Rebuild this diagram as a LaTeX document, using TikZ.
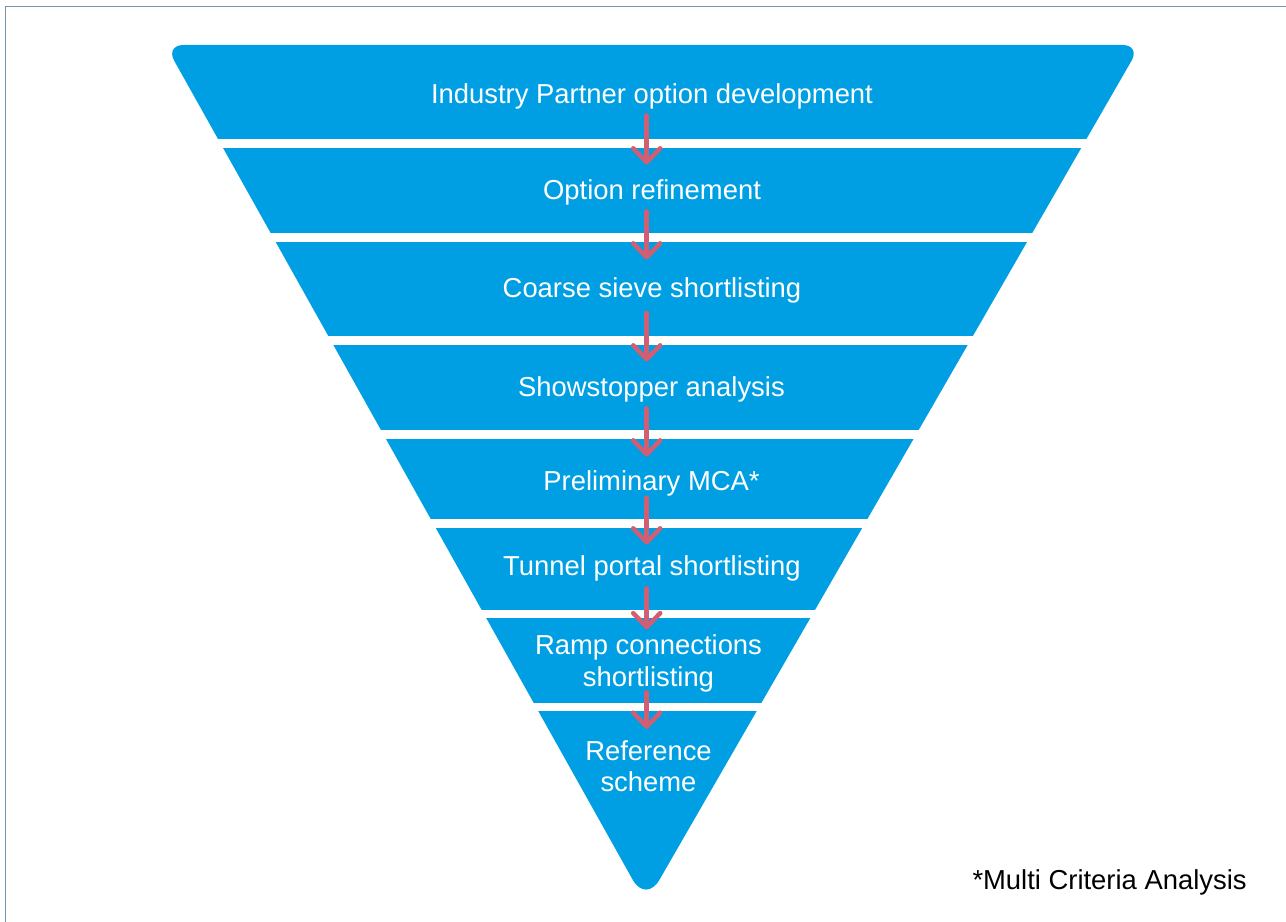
\documentclass[tikz,border=0pt]{standalone}
\usepackage{fontspec}
\setmainfont{Liberation Sans}
\usetikzlibrary{arrows.meta, calc}
\definecolor{funnelblue}{RGB}{0, 159, 227}
\definecolor{arrowred}{RGB}{209, 94, 114}
\definecolor{framegray}{RGB}{120, 146, 172}
\tikzset{
  funnel/.style     = {fill=funnelblue},
  gapband/.style    = {fill=white},
  stage/.style      = {text=white, inner sep=0pt, align=center, font=\fontsize{15.6}{18}\selectfont},
  flow/.style       = {-{Straight Barb[length=0.28cm, width=0.54cm, round]}, line width=0.09cm, arrowred, line cap=round},
  notetext/.style   = {inner sep=0pt, font=\fontsize{15.6}{18}\selectfont},
  framestyle/.style = {draw=framegray, line width=0.03cm},
}

\begin{document}
\begin{tikzpicture}[x=0.02cm, y=-0.02cm]
\useasboundingbox (0,0) rectangle (1286,922);

% frame (top and left edge)
\draw[framestyle] (5.5,922) -- (5.5,6.5) -- (1286,6.5);

% inverted triangle
\fill[funnel] (646,45) [rounded corners=0.36cm] -- (1140.6,45) [rounded corners=0.54cm] -- (645.9,903.3) [rounded corners=0.36cm] -- (165.4,45) -- cycle;

% white gaps between the bands
\foreach \t/\b in {139/148, 233/242, 336/345, 430/439, 519/528, 610/618, 702.5/711}
  \fill[gapband] (100,\t) rectangle (1200,\b);

% stages
\node[stage] (s1) at (652,96.7)  {Industry Partner option development};
\node[stage] (s2) at (652,192.7) {Option refinement};
\node[stage] (s3) at (652,290.7) {Coarse sieve shortlisting};
\node[stage] (s4) at (651.5,389.7) {Showstopper analysis};
\node[stage] (s5) at (651.5,483.7) {Preliminary MCA*};
\node[stage] (s6) at (652,568.7) {Tunnel portal shortlisting};
\node[stage] (s7) at (648.5,663.3) {Ramp connections\\shortlisting};
\node[stage] (s8) at (648.5,766.1) {Reference\\scheme};

% arrows on the centre line
\coordinate (axis) at (646.7,0);
\draw[flow, shorten <=0.11cm, shorten >=0.30cm] (s1.south -| axis) -- (s2.north -| axis);
\draw[flow, shorten <=0.11cm, shorten >=0.36cm] (s2.south -| axis) -- (s3.north -| axis);
\draw[flow, shorten <=0.18cm, shorten >=0.30cm] (s3.south -| axis) -- (s4.north -| axis);
\draw[flow, shorten <=0.11cm, shorten >=0.28cm] (s4.south -| axis) -- (s5.north -| axis);
\draw[flow, shorten <=0.02cm, shorten >=0.22cm] (s5.south -| axis) -- (s6.north -| axis);
\draw[flow, shorten <=0.13cm, shorten >=0.10cm] (s6.south -| axis) -- (s7.north -| axis);
\draw[flow, shorten <=0.00cm, shorten >=0.22cm] (s7.south -| axis) -- (s8.north -| axis);

% footnote
\node[notetext, anchor=east] (mca) at (1247,882.7) {*Multi Criteria Analysis};
\end{tikzpicture}
\end{document}
